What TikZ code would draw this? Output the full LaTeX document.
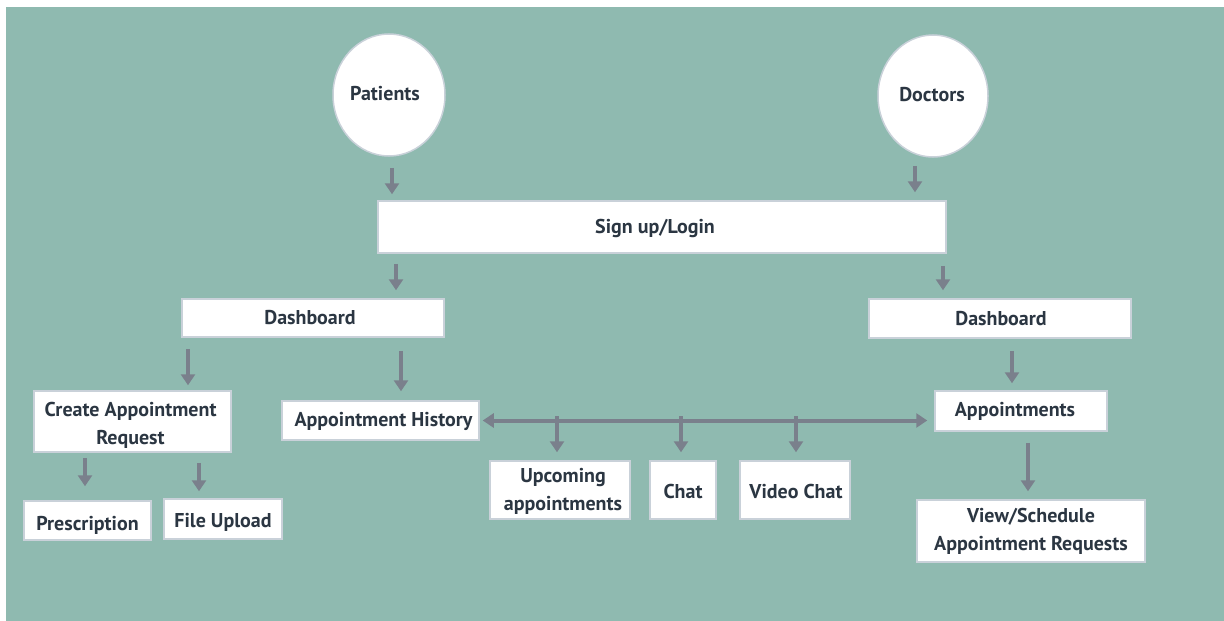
\documentclass[tikz,border=0pt]{standalone}
\usepackage{fontspec}
\setmainfont{PT Sans}
\usetikzlibrary{arrows.meta,shapes.geometric}
\definecolor{bgteal}{HTML}{8FBAB0}
\definecolor{edgegray}{HTML}{C9D1D9}
\definecolor{inkdark}{HTML}{2B3642}
\definecolor{arrowgray}{HTML}{7A808C}
\tikzset{
  x=1pt, y=-1pt,
  every node/.style={font=\bfseries\fontsize{20}{28}\selectfont, text=inkdark},
  boxnode/.style={draw=edgegray, line width=1.5pt, fill=white, inner sep=0pt},
  labelnode/.style={inner sep=0pt, align=center},
  rolenode/.style={ellipse, draw=edgegray, line width=1.5pt, fill=white, inner sep=0pt},
  flow/.style={draw=arrowgray, line width=4pt, -{Triangle[width=14pt,length=11pt]}},
  both/.style={draw=arrowgray, line width=4pt, {Triangle[width=14pt,length=11pt]}-{Triangle[width=14pt,length=11pt]}},
}
% white box from (x1,y1) to (x2,y2) with its label nudged by (dx,dy)
\newcommand{\boxat}[8]{% name, x1, y1, x2, y2, dx, dy, text
  \node[boxnode, minimum width={#4-#2}, minimum height={#5-#3}] (#1) at ({(#2+#4)/2},{(#3+#5)/2}) {};
  \node[labelnode] (#1-text) at ([shift={(#6,#7)}]#1.center) {#8};}
% vertical arrow at column x from node a down to node b, with gaps at both ends
\newcommand{\drop}[5]{% x, from, to, gap at start, gap at end
  \coordinate (col) at (#1,0);
  \draw[flow, shorten <=#4pt, shorten >=#5pt] (col |- #2.south) -- (col |- #3.north);}
\begin{document}
\begin{tikzpicture}
  \useasboundingbox (0,0) rectangle (1224,621);
  \fill[white] (0,0) rectangle (1224,621);
  \fill[bgteal] (6,7) rectangle (1224,621);

  % user roles
  \node[rolenode, minimum width=112, minimum height=122] (patients) at (389,95) {};
  \node[labelnode] at ([shift={(-4,-1)}]patients.center) {Patients};
  \node[rolenode, minimum width=110, minimum height=122] (doctors) at (933,96) {};
  \node[labelnode] at ([shift={(-1,-1)}]doctors.center) {Doctors};

  % boxes
  \boxat{login}{378}{201}{946}{253}{-7}{1}{Sign up/Login}
  \boxat{pdash}{182}{299}{444}{337}{-3}{0}{Dashboard}
  \boxat{ddash}{869}{299}{1131}{338}{1}{0}{Dashboard}
  \boxat{create}{34}{391}{231}{452}{-2}{4}{Create Appointment\\Request}
  \boxat{history}{282}{401}{479}{440}{3}{1}{Appointment History}
  \boxat{appts}{935}{391}{1107}{431}{-6}{0}{Appointments}
  \boxat{upcoming}{490}{461}{630}{519}{3}{1}{Upcoming\\appointments}
  \boxat{chat}{650}{461}{716}{519}{0}{1}{Chat}
  \boxat{video}{740}{461}{850}{519}{1}{1}{Video Chat}
  \boxat{presc}{24}{501}{151}{540}{0}{5}{Prescription}
  \boxat{upload}{164}{499}{282}{539}{0}{3}{File Upload}
  \boxat{sched}{917}{500}{1145}{562}{0}{0}{View/Schedule\\Appointment Requests}

  % connectors
  \drop{392}{patients}{login}{11}{6}
  \drop{915}{doctors}{login}{8}{8}
  \drop{396}{login}{pdash}{10}{8}
  \drop{943}{login}{ddash}{12}{8}
  \drop{188}{pdash}{create}{11}{5}
  \drop{401}{pdash}{history}{13}{9}
  \drop{1012}{ddash}{appts}{12}{7}
  \drop{85}{create}{presc}{5}{14}
  \drop{199}{create}{upload}{10}{7}
  \drop{1028}{appts}{sched}{11}{8}

  \draw[both, shorten <=3pt, shorten >=7pt] (history.east) -- (history.east -| appts.west);
  \coordinate (bus) at (0,416);
  \drop{557}{bus}{upcoming}{0}{8}
  \drop{681}{bus}{chat}{0}{8}
  \drop{796}{bus}{video}{0}{8}
\end{tikzpicture}
\end{document}
